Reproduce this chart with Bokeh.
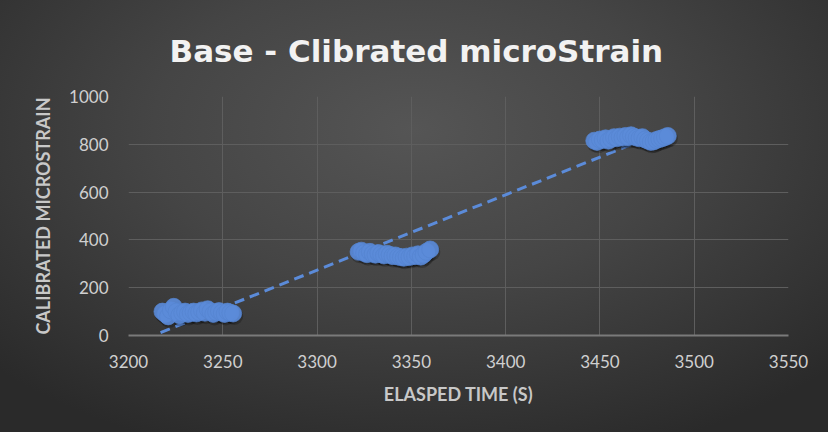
from bokeh.plotting import figure
from bokeh.models import Range1d, FixedTicker, ColumnDataSource
from bokeh.embed import file_html
from bokeh.resources import INLINE

# ---- data ----
base_time = [3218, 3219.5, 3221, 3222.5, 3224, 3225.5, 3227, 3228.5, 3230, 3231.5,
             3233, 3234.5, 3236, 3237.5, 3239, 3240.5, 3242, 3243.5, 3245, 3246.5,
             3248, 3249.5, 3251, 3252.5, 3254, 3255.5]
base_strain = [100, 90, 80, 105, 120, 100, 85, 95, 100, 90, 95, 100, 92, 98, 105,
               95, 110, 100, 90, 98, 102, 95, 90, 100, 95, 92]

mid_time = [3322, 3323.5, 3325, 3326.5, 3328, 3329.5, 3331, 3332.5, 3334, 3335.5,
            3337, 3338.5, 3340, 3341.5, 3343, 3344.5, 3346, 3347.5, 3349, 3350.5,
            3352, 3353.5, 3355, 3356.5, 3358, 3360]
mid_strain = [350, 355, 345, 340, 350, 342, 338, 345, 340, 335, 342, 338, 332, 335,
              330, 328, 325, 330, 328, 335, 332, 340, 330, 338, 350, 360]

top_time = [3447, 3448.5, 3450, 3451.5, 3453, 3454.5, 3456, 3457.5, 3459, 3460.5,
            3462, 3463.5, 3465, 3466.5, 3468, 3469.5, 3471, 3472.5, 3474, 3475.5,
            3477, 3478.5, 3480, 3481.5, 3483, 3484.5, 3486]
top_strain = [815, 810, 820, 818, 825, 815, 822, 830, 825, 832, 828, 835, 830, 838,
              832, 828, 825, 830, 820, 815, 810, 812, 818, 822, 825, 830, 835]

trend_time = [3217, 3467]
trend_strain = [12, 800]

x_ticks = [3200, 3250, 3300, 3350, 3400, 3450, 3500, 3550]
y_ticks = [0, 200, 400, 600, 800, 1000]

times = base_time + mid_time + top_time
strains = base_strain + mid_strain + top_strain

BLUE = "#5b8bd9"
FONT = "Lato"

p = figure(width=828, height=432, output_backend="svg", toolbar_location=None,
           x_range=Range1d(3200, 3550), y_range=Range1d(0, 1000),
           min_border_left=128, min_border_right=40, min_border_top=96,
           min_border_bottom=97)

p.styles = {"background": "radial-gradient(ellipse 70% 80% at 50% 30%, #555555 0%, #454545 45%, #2a2a2a 100%)"}
p.border_fill_color = None
p.background_fill_color = None
p.outline_line_color = None

p.title.text = "Base - Clibrated microStrain"
p.title.align = "left"
p.title.text_font = "DejaVu Sans"
p.title.text_font_style = "bold"
p.title.text_font_size = "31px"
p.title.text_color = "#f2f2f2"
p.title.standoff = 56
p.title.offset = 41

src = ColumnDataSource(dict(x=times, y=strains))
shadow = ColumnDataSource(dict(x=[t + 0.6 for t in times], y=[s - 10 for s in strains]))

p.line(trend_time, trend_strain, line_color=BLUE, line_width=3, line_dash="10 6")
p.scatter("x", "y", source=shadow, size=18, fill_color="#000000", fill_alpha=0.22, line_color=None)
p.scatter("x", "y", source=src, size=17, fill_color=BLUE, fill_alpha=0.92,
          line_color="#5584d0", line_width=1, line_alpha=0.7)

for ax in (p.xaxis[0], p.yaxis[0]):
    ax.major_tick_line_color = None
    ax.minor_tick_line_color = None
    ax.major_label_text_font = FONT
    ax.major_label_text_font_size = "17px"
    ax.major_label_text_color = "#d0d0d0"
    ax.axis_label_text_font = FONT
    ax.axis_label_text_font_style = "bold"
    ax.axis_label_text_font_size = "18px"
    ax.axis_label_text_color = "#c8c8c8"

p.xaxis.ticker = FixedTicker(ticks=x_ticks)
p.yaxis.ticker = FixedTicker(ticks=y_ticks)
p.xaxis.axis_label = "ELASPED TIME (S)"
p.yaxis.axis_label = "CALIBRATED MICROSTRAIN"
p.xaxis.axis_line_color = "#7a7a7a"
p.xaxis.axis_line_width = 2
p.yaxis.axis_line_color = None
p.xaxis.major_label_standoff = 13
p.yaxis.major_label_standoff = 14
p.xaxis.axis_label_standoff = 12
p.yaxis.axis_label_standoff = 12

p.xgrid.grid_line_color = "#5e5e5e"
p.ygrid.grid_line_color = "#5e5e5e"
p.xgrid.grid_line_width = 1
p.ygrid.grid_line_width = 1

open("out.html", "w").write(file_html(p, INLINE))
